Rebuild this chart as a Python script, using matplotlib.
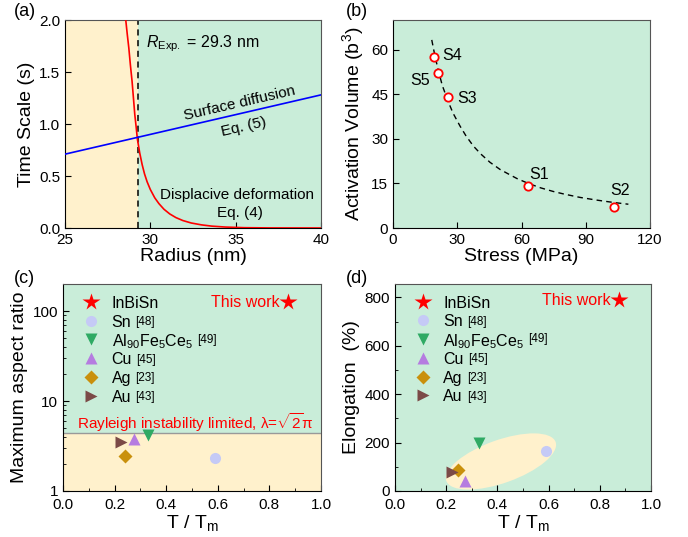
import numpy as np
import matplotlib
matplotlib.use("Agg")
import matplotlib.pyplot as plt
from matplotlib.patches import Ellipse
from matplotlib.transforms import ScaledTranslation
from matplotlib.ticker import MultipleLocator, FixedLocator, LogLocator, NullFormatter

plt.rcParams["font.family"] = ["Liberation Sans", "DejaVu Sans"]
plt.rcParams["mathtext.fontset"] = "custom"
plt.rcParams["mathtext.rm"] = "Liberation Sans"
plt.rcParams["mathtext.it"] = "Liberation Sans:italic"
plt.rcParams["mathtext.bf"] = "Liberation Sans:bold"

GREEN = "#C9EDD9"
YELLOW = "#FFF1CC"

# (a) time scale vs radius
R_EXP = 29.3
DISP_R = [28.56, 28.65, 28.74, 28.83, 28.93, 29.01, 29.09, 29.17, 29.24, 29.38,
          29.52, 29.66, 29.81, 30.0, 30.26, 30.5, 30.8, 31.14, 31.5, 31.9,
          32.4, 33.0, 33.6, 34.4, 35.5, 37.0, 40.0]
DISP_T = [2.0, 1.86, 1.73, 1.57, 1.41, 1.25, 1.09, 0.97, 0.856, 0.72,
          0.61, 0.52, 0.445, 0.37, 0.29, 0.235, 0.18, 0.135, 0.10, 0.072,
          0.048, 0.03, 0.018, 0.009, 0.003, 0.0008, 0.0]
SURF_R = [25.0, 40.0]
SURF_T = [0.71, 1.28]

# (b) activation volume vs stress
S_NAMES = ["S1", "S2", "S3", "S4", "S5"]
S_STRESS = [63.1, 103.3, 25.9, 19.0, 21.0]
S_VOL = [14.3, 7.0, 44.0, 57.6, 52.1]
FIT_STRESS = [18.1, 19.5, 21.0, 23.0, 25.8, 28.0, 31.3, 34.0, 37.5, 41.0, 45.3,
              50.0, 54.6, 58.0, 63.2, 69.0, 74.8, 80.0, 87.3, 95.0, 102.9, 109.9]
FIT_VOL = [63.3, 58.2, 53.5, 48.0, 42.5, 38.7, 34.3, 31.1, 27.6, 24.9, 22.1,
           19.7, 17.9, 16.6, 15.0, 13.5, 12.3, 11.4, 10.3, 9.4, 8.6, 8.0]

# (c)/(d) comparison
MATERIALS = ["InBiSn", "Sn", "Al90Fe5Ce5", "Cu", "Ag", "Au"]
NAMES = ["InBiSn", "Sn", r"Al$_{90}$Fe$_5$Ce$_5$", "Cu", "Ag", "Au"]
REFS = ["", "[48]", "[49]", "[45]", "[23]", "[43]"]
T_HOM_C = [0.872, 0.589, 0.330, 0.274, 0.241, 0.226]
ASPECT = [126, 2.32, 4.14, 3.80, 2.44, 3.52]
T_HOM_D = [0.876, 0.590, 0.329, 0.275, 0.245, 0.223]
ELONG = [788, 164, 197, 40, 87, 78]
RAYLEIGH = np.sqrt(2) * np.pi

STYLE = {
    "InBiSn":     dict(marker="*", color="#FF0000", ms=13),
    "Sn":         dict(marker="o", color="#C5CAF6", ms=8),
    "Al90Fe5Ce5": dict(marker="v", color="#2FAA64", ms=9),
    "Cu":         dict(marker="^", color="#B57CE0", ms=9),
    "Ag":         dict(marker="D", color="#C9900C", ms=7),
    "Au":         dict(marker=">", color="#7B4A47", ms=9),
}

W, H = 688, 537
fig = plt.figure(figsize=(W / 100, H / 100), dpi=100)


def add_ax(l, t, r, b):
    return fig.add_axes([l / W, 1 - b / H, (r - l) / W, (b - t) / H])


def style_ax(ax):
    ax.tick_params(direction="in", which="both", labelsize=11, length=4,
                   top=False, right=False)
    ax.tick_params(which="minor", length=2.5)
    for s in ("top", "right"):
        ax.spines[s].set_color("#555555")
    for s in ("left", "bottom"):
        ax.spines[s].set_color("black")


def legend_rows(ax, x_mark, x_text, y_top, dy):
    # hand-placed legend rows: marker, name, small bracketed reference
    for i, (m, name, ref) in enumerate(zip(MATERIALS, NAMES, REFS)):
        st = STYLE[m]
        y = y_top - i * dy
        ax.plot([x_mark], [y], transform=ax.transAxes, ls="none", clip_on=False,
                marker=st["marker"], color=st["color"], ms=st["ms"], mec="none",
                zorder=4)
        t = ax.text(x_text, y, name, transform=ax.transAxes, fontsize=11.5,
                    ha="left", va="center_baseline", zorder=4)
        if ref:
            ax.annotate(ref, xy=(1, 1), xycoords=t, xytext=(3, -1),
                        textcoords="offset points", fontsize=8.5,
                        ha="left", va="top", zorder=4)


# ---- (a)
ax = add_ax(65, 20, 321, 228)
ax.axvspan(25, R_EXP, color=YELLOW, lw=0, zorder=0)
ax.axvspan(R_EXP, 40, color=GREEN, lw=0, zorder=0)
ax.plot(DISP_R, DISP_T, color="#FF0000", lw=1.2, zorder=3)
ax.plot(SURF_R, SURF_T, color="#0000FF", lw=1.2, zorder=3)
ax.axvline(R_EXP, color="black", ls=(0, (4, 3)), lw=1.1, zorder=2)
ax.set_xlim(25, 40)
ax.set_ylim(0, 2)
ax.xaxis.set_major_locator(MultipleLocator(5))
ax.yaxis.set_major_locator(MultipleLocator(0.5))
ax.yaxis.set_major_formatter(matplotlib.ticker.FormatStrFormatter("%.1f"))
ax.set_xlabel("Radius (nm)", fontsize=14, labelpad=1)
ax.set_ylabel("Time Scale (s)", fontsize=14, labelpad=3)
ax.text(29.75, 1.77, r"$R_{\mathrm{Exp.}}$ = 29.3 nm", fontsize=11.5, va="center")
ax.text(35.25, 1.2, "Surface diffusion", fontsize=11, rotation=13,
        ha="center", va="center", rotation_mode="anchor")
ax.text(35.5, 0.97, "Eq. (5)", fontsize=11, rotation=13,
        ha="center", va="center", rotation_mode="anchor")
ax.text(35.05, 0.32, "Displacive deformation", fontsize=11, ha="center", va="center")
ax.text(35.25, 0.14, "Eq. (4)", fontsize=11, ha="center", va="center")
style_ax(ax)

# ---- (b)
ax = add_ax(393, 20, 650, 228)
ax.set_facecolor(GREEN)
ax.plot(FIT_STRESS, FIT_VOL, color="black", ls=(0, (4, 3)), lw=1.0, zorder=2)
ax.plot(S_STRESS, S_VOL, "o", mfc="white", mec="#FF0000", mew=1.3, ms=6, zorder=3)
offs = {"S1": (1, 8, "left"), "S2": (4, 12, "center"), "S3": (6, -1, "left"),
        "S4": (6, 1, "left"), "S5": (-6, -5, "right")}
for n, x, y in zip(S_NAMES, S_STRESS, S_VOL):
    dx, dy, ha = offs[n]
    ax.annotate(n, (x, y), xytext=(dx, dy), textcoords="offset points",
                fontsize=11.5, ha=ha, va="center")
ax.set_xlim(0, 120)
ax.set_ylim(0, 70)
ax.xaxis.set_major_locator(MultipleLocator(30))
ax.yaxis.set_major_locator(FixedLocator([0, 15, 30, 45, 60]))
ax.set_xlabel("Stress (MPa)", fontsize=14, labelpad=1)
ax.set_ylabel(r"Activation Volume (b$^3$)", fontsize=14, labelpad=4)
style_ax(ax)

# ---- (c)
ax = add_ax(63, 284, 321, 491)
ax.set_yscale("log")
ax.axhspan(1, RAYLEIGH, color=YELLOW, lw=0, zorder=0)
ax.axhspan(RAYLEIGH, 200, color=GREEN, lw=0, zorder=0)
ax.axhline(RAYLEIGH, color="#999999", lw=1.0, zorder=1)
for m, x, y in zip(MATERIALS, T_HOM_C, ASPECT):
    st = STYLE[m]
    ax.plot([x], [y], ls="none", marker=st["marker"], color=st["color"],
            ms=st["ms"], mec="none", zorder=3)
legend_rows(ax, 0.11, 0.188, 0.913, 0.0905)
ax.text(0.841, 126, "This work", color="#FF0000", fontsize=11.5, ha="right", va="center")
ax.text(0.056, 5.7, r"Rayleigh instability limited, λ=$\sqrt{2}$π", color="#FF0000",
        fontsize=11, ha="left", va="center")
ax.set_xlim(0, 1)
ax.set_ylim(1, 200)
ax.xaxis.set_major_locator(MultipleLocator(0.2))
ax.xaxis.set_minor_locator(MultipleLocator(0.1))
ax.yaxis.set_major_locator(FixedLocator([1, 10, 100]))
ax.yaxis.set_major_formatter(matplotlib.ticker.FixedFormatter(["1", "10", "100"]))
ax.yaxis.set_minor_locator(LogLocator(base=10, subs=np.arange(2, 10)))
ax.yaxis.set_minor_formatter(NullFormatter())
ax.xaxis.set_major_formatter(matplotlib.ticker.FormatStrFormatter("%.1f"))
ax.set_xlabel(r"T / T$_{\mathrm{m}}$", fontsize=14, labelpad=1)
ax.set_ylabel("Maximum aspect ratio", fontsize=14, labelpad=3)
style_ax(ax)
ax.tick_params(axis="x", pad=5)

# ---- (d)
ax = add_ax(395, 284, 651, 491)
ax.set_facecolor(GREEN)
for m, x, y in zip(MATERIALS, T_HOM_D, ELONG):
    st = STYLE[m]
    ax.plot([x], [y], ls="none", marker=st["marker"], color=st["color"],
            ms=st["ms"], mec="none", zorder=3)
ell = Ellipse((0, 0), 1.16, 0.43, angle=19.6, facecolor=YELLOW, edgecolor="none",
              zorder=1,
              transform=fig.dpi_scale_trans + ScaledTranslation(0.414, 122, ax.transData))
ax.add_patch(ell)
legend_rows(ax, 0.108, 0.188, 0.915, 0.0905)
ax.text(0.844, 788, "This work", color="#FF0000", fontsize=11.5, ha="right", va="center")
ax.set_xlim(0, 1)
ax.set_ylim(0, 855)
ax.xaxis.set_major_locator(MultipleLocator(0.2))
ax.xaxis.set_minor_locator(MultipleLocator(0.1))
ax.yaxis.set_major_locator(MultipleLocator(200))
ax.yaxis.set_minor_locator(MultipleLocator(100))
ax.xaxis.set_major_formatter(matplotlib.ticker.FormatStrFormatter("%.1f"))
ax.set_xlabel(r"T / T$_{\mathrm{m}}$", fontsize=14, labelpad=1)
ax.set_ylabel("Elongation  (%)", fontsize=14, labelpad=3)
style_ax(ax)
ax.tick_params(axis="x", pad=5)

for lab, x, y in (("(a)", 14, 3), ("(b)", 346, 3), ("(c)", 14, 270), ("(d)", 346, 270)):
    fig.text(x / W, 1 - y / H, lab, fontsize=13, ha="left", va="top")

fig.savefig("out.png", dpi=100)
